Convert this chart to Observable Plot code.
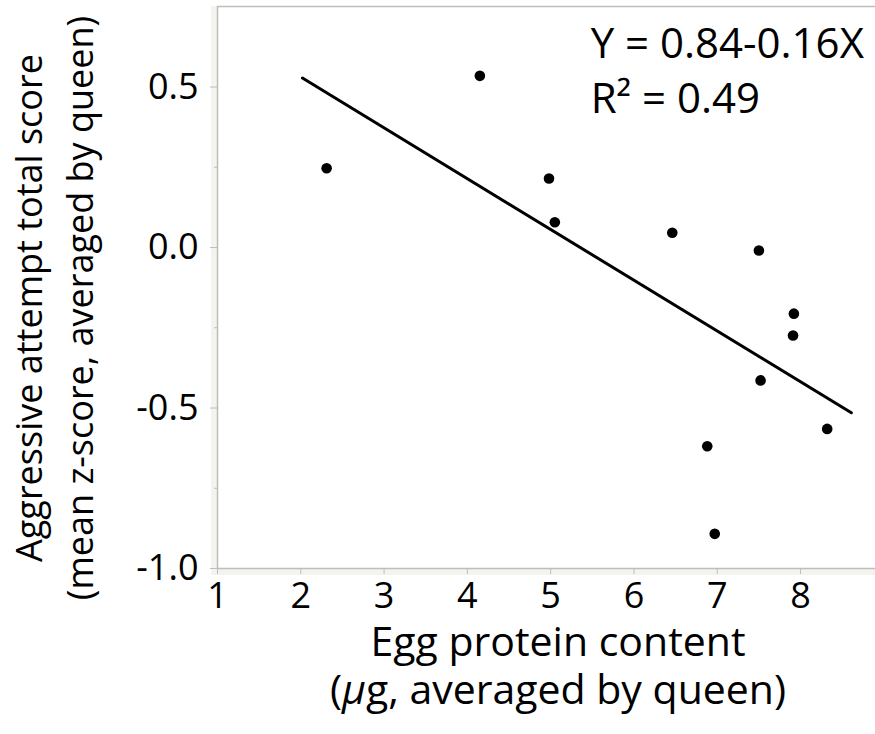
<!DOCTYPE html>
<html><head><meta charset="utf-8">
<script src="https://cdn.jsdelivr.net/npm/d3@7"></script>
<script src="https://cdn.jsdelivr.net/npm/@observablehq/plot@0.6"></script>
<style>body{margin:0;background:#fff} #chart svg{display:block}</style>
</head><body><div id="chart"></div>
<script>
// Data
const eggProtein = [2.31, 4.15, 4.98, 5.05, 6.46, 7.50, 7.92, 7.91, 7.52, 8.32, 6.88, 6.97];
const aggression = [0.247, 0.535, 0.215, 0.079, 0.046, -0.009, -0.206, -0.274, -0.414, -0.565, -0.619, -0.892];
const fitX = [2.02, 8.61];
const fitY = [0.528, -0.515];
const xTicks = [1, 2, 3, 4, 5, 6, 7, 8];
const yTicks = [-1.0, -0.5, 0.0, 0.5];
const yTickLabels = ["-1.0", "-0.5", "0.0", "0.5"];
const yMinorTicks = [-0.75, -0.25, 0.25];
const xDomain = [1, 8.9];
const yDomain = [-1.0, 0.751];
const annotationX = [5.48, 5.48];
const annotationY = [0.592, 0.418];
const annotationText = ["Y = 0.84-0.16X", "R\u00B2 = 0.49"];
const yLabelLines = ["Aggressive attempt total score", "(mean z-score, averaged by queen)"];
const xLabelLine1 = "Egg protein content";

const FONT = "'Open Sans', sans-serif";
const points = eggProtein.map((x, i) => ({x, y: aggression[i]}));
const fit = fitX.map((x, i) => ({x, y: fitY[i]}));
const notes = annotationText.map((t, i) => ({x: annotationX[i], y: annotationY[i], t}));
const axisGray = "#bdbdbd";

const plot = Plot.plot({
  width: 875, height: 734,
  marginLeft: 217, marginTop: 6, marginBottom: 166, marginRight: 0,
  style: {fontFamily: FONT, fontSize: "36px", color: "#000", background: "#fff"},
  x: {domain: xDomain},
  y: {domain: yDomain},
  marks: [
    Plot.ruleY([yDomain[1]], {stroke: axisGray, strokeWidth: 1.5}),
    Plot.axisX({ticks: xTicks, tickSize: 6, tickPadding: 8, stroke: axisGray, fill: "#000", label: null, tickFormat: d => String(d)}),
    Plot.axisY({ticks: yTicks, tickSize: 7, tickPadding: 12, stroke: axisGray, fill: "#000", label: null,
      tickFormat: d => yTickLabels[yTicks.indexOf(d)]}),
    Plot.axisY({ticks: yMinorTicks, tickSize: 3, stroke: axisGray, text: null, label: null}),
    Plot.ruleX([xDomain[0]], {stroke: axisGray, strokeWidth: 1.5}),
    Plot.ruleY([yDomain[0]], {stroke: axisGray, strokeWidth: 1.5}),
    Plot.line(fit, {x: "x", y: "y", stroke: "#000", strokeWidth: 3}),
    Plot.dot(points, {x: "x", y: "y", r: 5.3, fill: "#000", stroke: "none"}),
    Plot.text(notes, {x: "x", y: "y", text: "t", textAnchor: "start", lineAnchor: "bottom", fontSize: 42, fill: "#000"})
  ]
});

const svg = d3.select(plot);
const xs = plot.scale("x"), ys = plot.scale("y");
const x0 = xs.apply(xDomain[0]), yB = ys.apply(yDomain[0]), yT = ys.apply(yDomain[1]);
// off-white axis bands under the ticks
const bands = svg.insert("g", ":first-child");
bands.append("rect").attr("x", x0 - 6).attr("y", yT).attr("width", 6).attr("height", yB - yT + 7).attr("fill", "#f4f4ef");
bands.append("rect").attr("x", x0 - 6).attr("y", yB).attr("width", 875 - x0 + 6).attr("height", 7).attr("fill", "#f4f4ef");

// y-axis title (two lines, rotated)
const yc = 308;
[[42, yLabelLines[0]], [93, yLabelLines[1]]].forEach(([bx, t]) => {
  svg.append("text").attr("transform", `translate(${bx},${yc}) rotate(-90)`)
    .attr("text-anchor", "middle").attr("font-family", FONT).attr("font-size", 36).attr("fill", "#000").text(t);
});
// x-axis title
const xc = 558;
svg.append("text").attr("x", xc).attr("y", 656).attr("text-anchor", "middle")
  .attr("font-family", FONT).attr("font-size", 41).attr("fill", "#000").text(xLabelLine1);
const l2 = svg.append("text").attr("x", xc).attr("y", 704).attr("text-anchor", "middle")
  .attr("font-family", FONT).attr("font-size", 41).attr("fill", "#000");
l2.append("tspan").text("(");
l2.append("tspan").attr("font-style", "italic").text("\u03BC");
l2.append("tspan").text("g, averaged by queen)");

document.getElementById("chart").appendChild(plot);
</script>
</body></html>
